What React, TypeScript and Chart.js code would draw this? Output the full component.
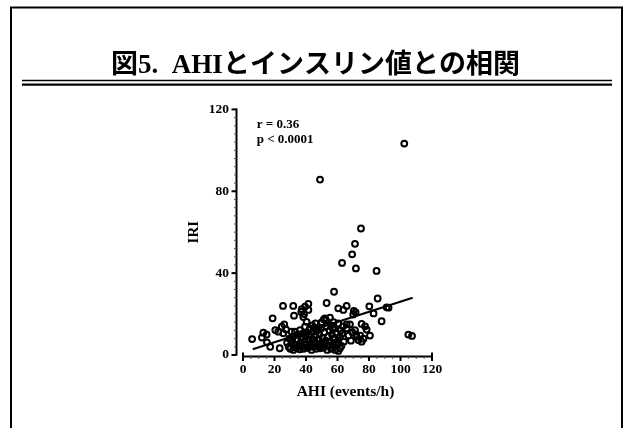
import React, { useEffect, useRef } from 'react';
import { Chart, registerables } from 'chart.js';

Chart.register(...registerables);

const titleText = '図5.  AHIとインスリン値との相関';
const xTitle = 'AHI (events/h)';
const yTitle = 'IRI';
const statLines = ['r = 0.36', 'p < 0.0001'];

const xTicks = [0, 20, 40, 60, 80, 100, 120];
const yTicks = [0, 40, 80, 120];

// AHI (events/h) of each patient
const ahi = [
  102.4, 48.9, 74.9, 71.1, 69.3, 62.9, 71.7, 84.8, 57.8, 85.5,
  53.1, 65.8, 60.5, 63.7, 70.4, 71.5, 80.2, 82.9, 88.0, 91.2,
  92.4, 52.0, 55.2, 51.3, 75.3, 77.5, 78.5, 80.6, 105.0, 107.3,
  5.8, 12.0, 12.9, 15.0, 15.2, 17.3, 18.8, 20.5, 22.4, 24.6,
  26.2, 25.4, 25.6, 23.3, 27.3, 31.9, 32.4, 37.3, 39.4, 41.5,
  41.5, 38.3, 40.4, 30.9, 33.0, 36.2, 39.4, 42.5, 52.7, 30.9,
  42.5, 48.9, 61.6, 60.5, 60.5, 61.6, 60.5, 60.5, 65.8, 65.8,
  71.1, 71.8, 72.2, 73.2, 75.3, 67.9, 70.0, 57.0, 44.0, 46.0,
  48.0, 50.0, 45.0, 37.0, 38.8,
  28.0, 29.0, 29.5, 30.0, 31.0, 32.0, 32.0, 33.0, 34.0, 34.5,
  35.0, 35.5, 36.0, 36.5, 37.0, 37.5, 38.0, 38.5, 39.0, 39.5,
  40.0, 40.5, 41.0, 41.5, 42.0, 43.0, 43.5, 44.0, 44.5, 45.0,
  45.5, 46.0, 46.5, 47.0, 47.5, 48.0, 48.5, 49.0, 49.5, 50.0,
  50.5, 51.0, 51.5, 52.0, 52.5, 53.0, 53.5, 54.0, 54.5, 55.0,
  55.5, 56.0, 56.5, 57.0, 57.5, 58.0, 58.5, 59.0,
  56.0, 57.5, 59.0, 62.0, 63.0, 64.0, 62.5, 63.5,
  67.0, 68.5, 69.5, 74.5, 76.5,
];

// IRI (immunoreactive insulin) of each patient
const iri = [
  103.3, 85.7, 61.8, 54.3, 49.2, 45.0, 42.3, 41.1, 30.9, 27.6,
  25.4, 24.0, 22.8, 22.0, 21.6, 20.8, 23.8, 20.3, 16.5, 23.3,
  23.1, 17.9, 18.3, 17.4, 15.2, 14.0, 12.4, 9.5, 10.0, 9.3,
  7.8, 8.5, 10.9, 10.0, 6.2, 4.0, 17.9, 12.2, 11.4, 13.8,
  15.0, 24.0, 10.6, 3.3, 12.5, 24.0, 19.2, 22.4, 23.6, 25.0,
  22.0, 18.6, 16.2, 11.4, 11.4, 12.2, 13.8, 13.0, 17.0, 5.7,
  4.0, 3.3, 3.3, 2.0, 5.7, 8.9, 7.3, 15.4, 15.0, 13.0,
  12.2, 10.0, 8.9, 7.3, 6.5, 15.0, 19.8, 13.0, 14.5, 15.5,
  13.5, 16.0, 12.8, 21.0, 20.0,
  6.0, 4.0, 8.0, 3.0, 7.0, 2.5, 9.0, 5.0, 3.5, 7.5,
  10.0, 4.5, 2.8, 6.0, 8.5, 4.0, 10.5, 3.0, 6.5, 9.0,
  5.0, 11.0, 3.5, 7.5, 9.5, 5.5, 2.5, 8.0, 11.5, 4.0,
  6.5, 9.5, 3.0, 12.0, 5.0, 7.5, 10.0, 4.5, 13.0, 6.0,
  8.5, 3.5, 11.0, 5.5, 7.0, 14.0, 2.5, 9.0, 4.5, 12.0,
  6.5, 3.0, 10.0, 5.0, 8.0, 13.0, 2.5, 6.0,
  14.5, 16.0, 11.0, 12.0, 10.5, 6.5, 4.5, 14.0,
  9.5, 7.0, 11.0, 9.5, 8.0,
];

// regression line end points (AHI, IRI)
const regAhi = [6.2, 107.7];
const regIri = [2.8, 28.0];

const serif = '"Liberation Serif", "Times New Roman", serif';

const decor = {
  id: 'decor',
  beforeDraw(chart: any) {
    const { ctx, width, height } = chart;
    ctx.save();
    ctx.fillStyle = '#fff';
    ctx.fillRect(0, 0, width, height);
    ctx.restore();
  },
  afterDraw(chart: any) {
    const { ctx, chartArea, scales } = chart;
    const x = scales.x;
    const y = scales.y;
    ctx.save();
    ctx.strokeStyle = '#000';
    ctx.fillStyle = '#000';
    // slide frame
    ctx.lineWidth = 2;
    ctx.beginPath();
    ctx.moveTo(11, 440);
    ctx.lineTo(11, 7.5);
    ctx.lineTo(622, 7.5);
    ctx.lineTo(622, 440);
    ctx.stroke();
    // double underline of the title
    ctx.lineWidth = 1.3;
    ctx.beginPath();
    ctx.moveTo(22, 80.5);
    ctx.lineTo(612, 80.5);
    ctx.stroke();
    ctx.lineWidth = 2.4;
    ctx.beginPath();
    ctx.moveTo(22, 84.6);
    ctx.lineTo(612, 84.6);
    ctx.stroke();

    // y axis (offset to the left)
    const ax = chartArea.left - 6.5;
    const yb = y.getPixelForValue(0);
    const yt = y.getPixelForValue(120);
    ctx.lineWidth = 2;
    ctx.beginPath();
    ctx.moveTo(ax, yb + 0.5);
    ctx.lineTo(ax, yt - 1);
    ctx.stroke();
    ctx.lineWidth = 1;
    ctx.strokeStyle = '#555';
    for (let v = 4; v < 120; v += 4) {
      const p = y.getPixelForValue(v);
      ctx.beginPath();
      ctx.moveTo(ax - 2.5, p);
      ctx.lineTo(ax, p);
      ctx.stroke();
    }
    ctx.strokeStyle = '#000';
    ctx.lineWidth = 2;
    yTicks.forEach((v) => {
      const p = y.getPixelForValue(v);
      ctx.beginPath();
      ctx.moveTo(ax - 5, p);
      ctx.lineTo(ax, p);
      ctx.stroke();
    });

    // x axis
    const ay = yb + 1.5;
    const xl = x.getPixelForValue(0);
    const xr = x.getPixelForValue(120);
    ctx.lineWidth = 2;
    ctx.beginPath();
    ctx.moveTo(xl - 1, ay);
    ctx.lineTo(xr + 1, ay);
    ctx.stroke();
    ctx.lineWidth = 1;
    ctx.strokeStyle = '#555';
    for (let v = 5; v < 120; v += 5) {
      const p = x.getPixelForValue(v);
      ctx.beginPath();
      ctx.moveTo(p, ay);
      ctx.lineTo(p, ay + 2.5);
      ctx.stroke();
    }
    ctx.strokeStyle = '#000';
    ctx.lineWidth = 2;
    xTicks.forEach((v) => {
      const p = x.getPixelForValue(v);
      ctx.beginPath();
      ctx.moveTo(p, v === 0 || v === 120 ? ay - 4 : ay);
      ctx.lineTo(p, ay + 4.5);
      ctx.stroke();
    });

    // x axis title
    ctx.font = 'bold 15.5px ' + serif;
    ctx.textAlign = 'center';
    ctx.textBaseline = 'alphabetic';
    ctx.fillText(xTitle, (chartArea.left + chartArea.right) / 2 + 8, 396);

    // statistics
    ctx.font = 'bold 13px ' + serif;
    ctx.textAlign = 'left';
    ctx.fillText(statLines[0], chartArea.left + 13.7, 128.3);
    ctx.fillText(statLines[1], chartArea.left + 13.7, 143);
    ctx.restore();
  },
};

export default function App() {
  const ref = useRef<HTMLCanvasElement | null>(null);

  useEffect(() => {
    document.body.style.margin = '0';
    const canvas = ref.current;
    if (!canvas) return;
    const tickFont = { family: serif, size: 13.5, weight: 'bold' as const };
    const chart = new Chart(canvas, {
      type: 'scatter',
      data: {
        datasets: [
          {
            type: 'line' as const,
            data: regAhi.map((v, i) => ({ x: v, y: regIri[i] })),
            borderColor: '#000',
            borderWidth: 2,
            pointRadius: 0,
            fill: false,
          },
          {
            type: 'scatter' as const,
            data: ahi.map((v, i) => ({ x: v, y: iri[i] })),
            pointStyle: 'circle',
            pointRadius: 2.9,
            pointBorderWidth: 2,
            pointBorderColor: '#000',
            pointBackgroundColor: 'rgba(255,255,255,0)',
          },
        ],
      } as any,
      options: {
        animation: false,
        responsive: false,
        devicePixelRatio: 1,
        layout: { padding: 0 },
        plugins: {
          legend: { display: false },
          tooltip: { enabled: false },
          title: {
            display: true,
            text: titleText,
            color: '#000',
            font: { family: '"Liberation Serif", "Noto Sans CJK JP"', size: 27, weight: 'bold' },
            padding: { top: 50, bottom: 27 },
          },
        },
        scales: {
          x: {
            type: 'linear',
            min: 0,
            max: 120,
            afterBuildTicks: (s: any) => {
              s.ticks = xTicks.map((v) => ({ value: v }));
            },
            ticks: { color: '#000', padding: 6, font: tickFont, maxRotation: 0 },
            grid: { display: false, drawTicks: false },
            border: { display: false },
            afterFit: (s: any) => {
              s.height = 73;
            },
          },
          y: {
            type: 'linear',
            min: 0,
            max: 120,
            afterBuildTicks: (s: any) => {
              s.ticks = yTicks.map((v) => ({ value: v }));
            },
            ticks: { color: '#000', padding: 14, font: tickFont },
            grid: { display: false, drawTicks: false },
            border: { display: false },
            title: {
              display: true,
              text: yTitle,
              color: '#000',
              font: { family: serif, size: 15, weight: 'bold' },
              padding: { top: 185, bottom: 0 },
            },
            afterFit: (s: any) => {
              s.width = 243;
            },
          },
          y2: {
            type: 'linear',
            position: 'right',
            display: true,
            ticks: { display: false },
            grid: { display: false, drawTicks: false },
            border: { display: false },
            afterFit: (s: any) => {
              s.width = 199;
            },
          },
        },
      } as any,
      plugins: [decor],
    });
    return () => chart.destroy();
  }, []);

  return (
    <div style={{ position: 'absolute', left: 0, top: 0, width: 631, height: 428 }}>
      <canvas ref={ref} width={631} height={428} style={{ display: 'block', width: 631, height: 428 }} />
    </div>
  );
}
